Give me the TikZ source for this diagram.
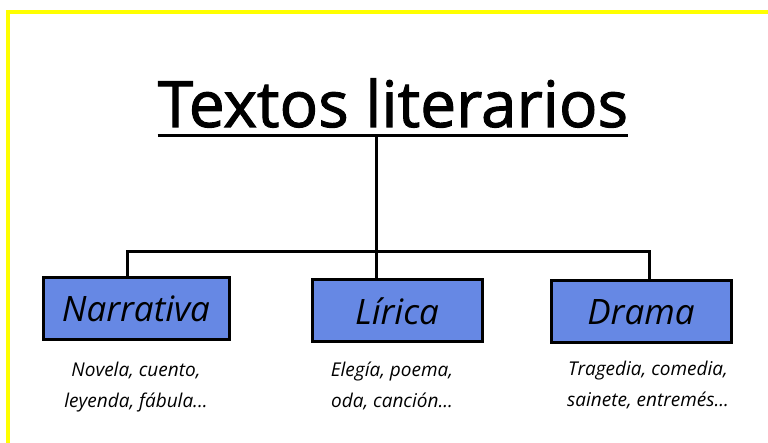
\documentclass[tikz,border=0pt]{standalone}
\usepackage{fontspec}
\setmainfont{Open Sans}
\newfontfamily\titlefont[FakeBold=1.6]{Open Sans}
\usepackage{xcolor}
\usetikzlibrary{positioning}
\definecolor{boxblue}{RGB}{102,136,228}
\definecolor{framey}{RGB}{255,255,0}
\tikzset{
    link/.style={line width=3pt, line join=miter},
    genre/.style={rectangle, draw, line width=3pt, fill=boxblue, minimum width=186pt, minimum height=62pt, font=\itshape\fontsize{35}{40}\selectfont},
    examples/.style={align=center, font=\itshape\fontsize{19}{31}\selectfont},
}

\begin{document}
\begin{tikzpicture}[x=1pt, y=-1pt]

    \useasboundingbox (0,0) rectangle (768,443);
    \draw[framey, line width=4pt] (8,443) -- (8,12) -- (768,12);

    \node[anchor=base, inner sep=0pt, font=\titlefont\fontsize{64}{70}\selectfont] (title) at (393,127) {Textos literarios};
    \draw[link] ([yshift=-9pt]title.base west) -- ([yshift=-9pt]title.base east);

    \node[genre] (narrativa) at (136,309) {Narrativa};
    \node[genre, minimum width=170pt] (lirica) at (397,311) {Lírica};
    \node[genre, minimum width=180pt] (drama) at (641,312) {Drama};

    \node[examples, below=17pt of narrativa] (narr-ej) {Novela, cuento,\\leyenda, fábula...};
    \node[examples, below=15pt of lirica, xshift=-5pt] (lir-ej) {Elegía, poema,\\oda, canción...};
    \node[examples, below=13pt of drama, xshift=7pt] (dra-ej) {Tragedia, comedia,\\sainete, entremés...};

    \coordinate (hub) at (376,252);
    \draw[link] (hub |- title.base) ++(0,9) -- (hub);
    \draw[link] ([xshift=-9pt]narrativa.north) -- ([xshift=-9pt]narrativa.north |- hub) -- ([xshift=8pt]drama.north |- hub) -- ([xshift=8pt]drama.north);
    \draw[link] (hub) -- (lirica.north -| hub);
\end{tikzpicture}
\end{document}
